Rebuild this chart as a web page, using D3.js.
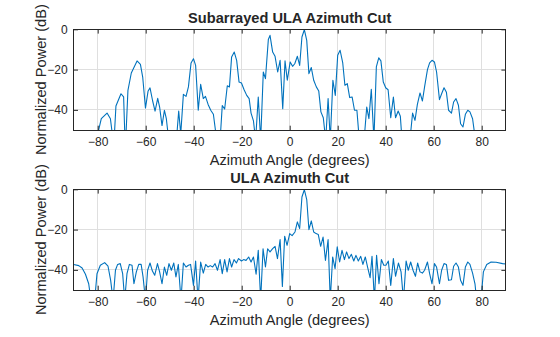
<!DOCTYPE html>
<html>
<head>
<meta charset="utf-8">
<script src="https://cdn.jsdelivr.net/npm/d3@7"></script>
<style>
html,body{margin:0;padding:0;background:#fff;}
svg{display:block;}
text{font-family:"Liberation Sans",Arial,Helvetica,sans-serif;fill:#262626;}
</style>
</head>
<body>
<svg id="chart" width="560" height="337"></svg>
<script>
// ---- data ----
const xTicks = [-80, -60, -40, -20, 0, 20, 40, 60, 80];
const yTicks = [-40, -20, 0];
const titles = ["Subarrayed ULA Azimuth Cut", "ULA Azimuth Cut"];
const xLabel = "Azimuth Angle (degrees)";
const yLabel = "Normalized Power (dB)";

const subAngle = [-80,-78.5,-76.1,-74.7,-73.3,-72.4,-70.3,-69.2,-68.5,-67.4,-66,-63.6,-62.2,-61.25,-60.1,-59,-58.2,-57.1,-56.1,-55,-54.2,-53.2,-52.2,-51.4,-50.4,-47.2,-46.25,-45.4,-44.3,-43.2,-42.2,-41.1,-40.1,-39.2,-38.1,-37.1,-36,-35.1,-34,-32.9,-31.8,-30.4,-29,-28.1,-27.1,-26,-25.1,-24.2,-23.1,-22.1,-21.1,-20.1,-19,-17.9,-16.9,-16.1,-15.1,-14.2,-13.1,-12.1,-11,-10.1,-8.9,-8.2,-7.1,-6.1,-5,-4,-2.9,-1.95,-1,0.2,1.2,2.1,3.2,4.15,5.1,6.1,7.1,8,9,10,11.1,12.1,13,14,15,16,16.9,18,19,20,21,22.1,23,24,25,26,27,28,29,31,32.1,33,34,35.1,36.1,37.1,38,39,40,41,42.1,43.2,44.1,45.2,46.1,46.8,50.1,51.2,52.2,53.2,54.3,55.3,56.2,57.4,58.3,59.3,60.3,61.2,62.4,63.3,64.3,65.3,66.2,67.4,68.3,69.3,70.3,71.2,72.2,73.2,74.2,75.1,76.2,77.4];
const subPower = [-52,-44.4,-41.6,-44.4,-58,-38.1,-32,-33.6,-60,-30.3,-21.7,-15.7,-17.4,-23.7,-39.1,-30.6,-29.1,-35.6,-40.6,-34.3,-38.6,-47.8,-40.2,-44.4,-55,-55,-40.6,-52,-32.3,-33.3,-28.6,-16.7,-14.6,-17.9,-40.2,-27.3,-34.4,-33.3,-37.3,-40.2,-42.2,-55,-55,-37.9,-39.6,-28,-28.6,-13.7,-11.3,-15.4,-26.2,-26.7,-30,-32.8,-34.4,-41.6,-45.5,-55,-33.6,-55,-21.2,-24.5,-5.1,-3,-11.3,-13.4,-21.2,-15.4,-39.4,-15.7,-25.3,-16.2,-18.4,-17.1,-13.4,-17.9,-3.8,-0.2,-5.5,-22,-19,-25.3,-28.6,-30.6,-41,-43.9,-55,-34.4,-55,-25.3,-32.8,-12.9,-10.4,-16.7,-27.8,-27,-33.9,-33.6,-40.2,-40.2,-55,-55,-38.6,-44.4,-29.8,-55,-18.7,-14.2,-15.7,-26.2,-29,-30,-43.9,-33.6,-43.9,-40.6,-43.2,-55,-55,-41.6,-45.2,-37.3,-31.6,-35.6,-28.6,-20,-16.7,-15.4,-16.2,-21.2,-34.9,-32,-29,-31.3,-40.2,-41.6,-36.1,-34.4,-37.7,-46.9,-48.5,-42.2,-40.2,-41,-44.4,-55];

const ulaAngle = [-90,-87.9,-86.5,-85.1,-83.75,-82.8,-81.25,-80.3,-78.9,-77.1,-75.7,-74.6,-73.6,-72.6,-71.7,-70.6,-69.6,-68.75,-67.8,-66.8,-65.7,-64.9,-63.9,-62.9,-61.9,-61.1,-60.1,-59.2,-58.2,-57.2,-56.25,-55.1,-54.2,-53.2,-52.2,-51.25,-50.3,-49.3,-48.3,-47.4,-46.4,-45.3,-44.3,-43.2,-42.2,-41.3,-40.1,-39.2,-38.2,-37.1,-36,-35,-34,-33.1,-32.1,-31.1,-30.1,-29,-28.1,-27.1,-26.1,-25.1,-24.2,-23.2,-22.2,-21.3,-20.1,-19.2,-18.2,-17.1,-16.1,-15.1,-14,-13.1,-12.1,-11.1,-10.1,-9.2,-8.2,-7.1,-6.1,-5.1,-4,-3.05,-2.1,-1.1,0,1,2.2,3.2,4.15,5.1,6.1,7.1,8,9,10,11,11.9,12.9,13.9,14.9,16,16.9,17.9,18.9,19.8,20.8,21.8,22.8,23.7,24.7,25.7,26.7,27.6,28.6,29.6,30.5,31.5,32.5,33.5,34.3,35.3,36.2,37.2,38.2,39.2,40.1,41.1,42.1,43.2,44.1,45.3,46.4,47.4,48.5,49.4,50.4,51.4,52.4,53.3,54.3,55.3,56.2,57.4,58.3,59.3,60.3,61.2,62.4,63.3,64.3,65.3,66.2,67.4,68.3,69.3,70.3,71.2,72.2,73.2,74.2,75.1,76.2,77.2,77.9,79.7,80.7,82.1,83.9,86,88.7,90];
const ulaPower = [-37.3,-37.9,-39.1,-42.2,-46.9,-55,-55,-41.9,-37.7,-36.4,-38.2,-45.2,-55,-40.2,-37.3,-36.9,-41.9,-55,-41.9,-37.3,-37.7,-46.9,-41,-37.3,-37.3,-43.5,-55,-40.2,-36.6,-40.6,-42.7,-36.9,-41,-46.9,-38.6,-42.7,-36.9,-40.2,-36.6,-43.5,-37.3,-55,-36.6,-38.6,-37.7,-37.3,-47.7,-35.6,-55,-36.1,-41.6,-37.3,-38.6,-37.9,-38.6,-36.9,-40.2,-34.9,-41.9,-34.9,-41,-34.4,-38.6,-34.9,-36.6,-34.4,-35.6,-34.9,-35.3,-33.6,-36.1,-33.6,-42.2,-30.3,-55,-29.5,-38.6,-29.5,-31.1,-29.5,-28.3,-34.4,-25,-48.2,-23.3,-27.8,-22,-23,-21.2,-16.2,-19.5,-3.8,-0.2,-5.1,-20,-15.7,-21.2,-22,-22.4,-28.3,-23.7,-35.3,-25,-55,-33.6,-39.4,-28.6,-36.1,-30.3,-34.9,-31.1,-34.4,-32.3,-35.6,-32.8,-35.6,-33.3,-37.3,-33.6,-38.9,-43.9,-33.3,-55,-32.8,-46.9,-34.9,-37.7,-37.7,-35.6,-47.7,-34.4,-43.2,-36.6,-41,-55,-35.6,-40.2,-36.1,-40.2,-43.2,-36.6,-41,-41.6,-40.2,-36.1,-41.9,-46.9,-36.9,-38.6,-46.9,-40.2,-36.9,-37.3,-45.2,-44.9,-38.2,-36.6,-38.6,-45.2,-47.7,-38.6,-36.1,-37.3,-41.6,-46.9,-55,-55,-41,-37.3,-36.1,-36.2,-36.9,-37.1];

// ---- drawing ----
const svg = d3.select("#chart");
const left = 73.7, right = 505.7;
const x = d3.scaleLinear().domain([-90, 90]).range([left, right]);

const panels = [
  {top: 29.3, bottom: 130, title: titles[0], ang: subAngle, pow: subPower},
  {top: 189.3, bottom: 290, title: titles[1], ang: ulaAngle, pow: ulaPower}
];

const axisColor = "#262626";
const gridColor = "#dfdfdf";
const tickLen = 4.3;
const defs = svg.append("defs");

panels.forEach((p, i) => {
  const y = d3.scaleLinear().domain([-50, 0]).range([p.bottom, p.top]);
  const g = svg.append("g");
  const clipId = "clip" + i;
  defs.append("clipPath").attr("id", clipId)
    .append("rect").attr("x", left).attr("y", p.top)
    .attr("width", right - left).attr("height", p.bottom - p.top);

  // grid
  g.append("g").selectAll("line").data(xTicks).join("line")
    .attr("x1", d => x(d)).attr("x2", d => x(d))
    .attr("y1", p.top).attr("y2", p.bottom)
    .attr("stroke", gridColor).attr("stroke-width", 1).attr("shape-rendering", "crispEdges");
  g.append("g").selectAll("line").data(yTicks).join("line")
    .attr("x1", left).attr("x2", right)
    .attr("y1", d => y(d)).attr("y2", d => y(d))
    .attr("stroke", gridColor).attr("stroke-width", 1).attr("shape-rendering", "crispEdges");

  // data line
  const pts = p.ang.map((a, k) => [a, p.pow[k]]);
  const line = d3.line().x(d => x(d[0])).y(d => y(d[1])).curve(d3.curveLinear);
  g.append("path").datum(pts)
    .attr("clip-path", `url(#${clipId})`)
    .attr("fill", "none").attr("stroke", "#0072BD")
    .attr("stroke-width", 1.1).attr("stroke-linejoin", "round")
    .attr("d", line);

  // axes with inward ticks on all four sides
  const fmt = d => (d < 0 ? "\u2212" + Math.abs(d) : String(d));
  const axB = d3.axisBottom(x).tickValues(xTicks).tickSizeInner(-tickLen).tickSizeOuter(0).tickPadding(7.5).tickFormat(fmt);
  const axT = d3.axisTop(x).tickValues(xTicks).tickSizeInner(-tickLen).tickSizeOuter(0).tickFormat("");
  const axL = d3.axisLeft(y).tickValues(yTicks).tickSizeInner(-tickLen).tickSizeOuter(0).tickPadding(6).tickFormat(fmt);
  const axR = d3.axisRight(y).tickValues(yTicks).tickSizeInner(-tickLen).tickSizeOuter(0).tickFormat("");

  const gb = g.append("g").attr("transform", `translate(0,${p.bottom})`).call(axB);
  const gt = g.append("g").attr("transform", `translate(0,${p.top})`).call(axT);
  const gl = g.append("g").attr("transform", `translate(${left},0)`).call(axL);
  const gr = g.append("g").attr("transform", `translate(${right},0)`).call(axR);
  [gb, gt, gl, gr].forEach(a => {
    a.select(".domain").remove();
    a.selectAll("line").attr("stroke", axisColor).attr("stroke-width", 1);
    a.selectAll("text").attr("fill", axisColor)
      .style("font-family", '"Liberation Sans", Arial, sans-serif').style("font-size", "12px");
  });

  // box
  g.append("rect").attr("x", left).attr("y", p.top)
    .attr("width", right - left).attr("height", p.bottom - p.top)
    .attr("fill", "none").attr("stroke", axisColor).attr("stroke-width", 1)
    .attr("shape-rendering", "crispEdges");

  // title
  g.append("text").attr("x", (left + right) / 2).attr("y", p.top - 6)
    .attr("text-anchor", "middle").style("font-size", "14.6px").style("font-weight", "bold")
    .text(p.title);
  // x label
  g.append("text").attr("x", (left + right) / 2).attr("y", p.bottom + 35)
    .attr("text-anchor", "middle").style("font-size", "14.6px")
    .text(xLabel);
  // y label
  g.append("text")
    .attr("transform", `translate(46,${(p.top + p.bottom) / 2}) rotate(-90)`)
    .attr("text-anchor", "middle").style("font-size", "14.6px")
    .text(yLabel);
});
</script>
</body>
</html>
